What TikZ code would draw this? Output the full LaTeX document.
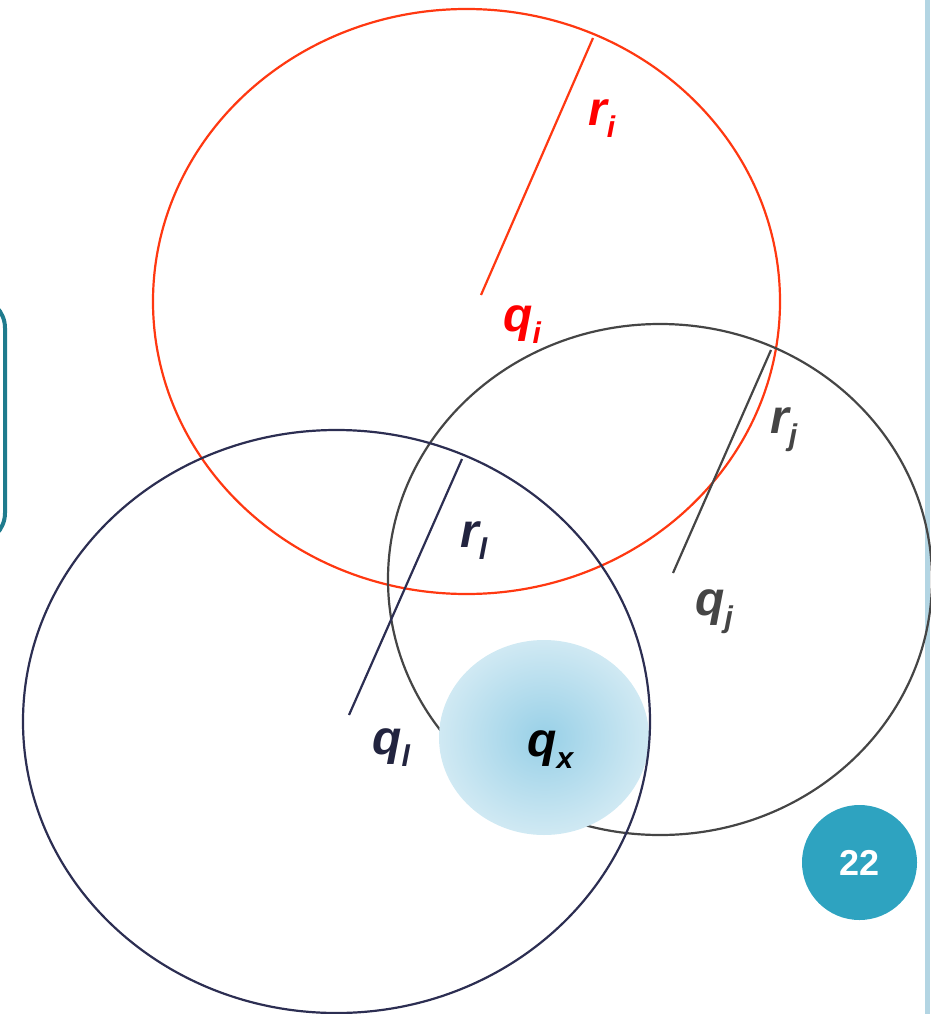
\documentclass[tikz,border=0pt]{standalone}
\usepackage{fontspec}
\setmainfont{Liberation Sans}
\usepackage{tikz}
\usetikzlibrary{positioning,shapes.geometric}

\definecolor{ringred}{HTML}{FF3811}
\definecolor{labred}{HTML}{FF0000}
\definecolor{ringgray}{HTML}{454545}
\definecolor{ringnavy}{HTML}{2C2E52}
\definecolor{labnavy}{HTML}{22243F}
\definecolor{badge}{HTML}{2EA3C0}
\definecolor{boxteal}{HTML}{1F7B8D}
\definecolor{barblue}{HTML}{B3D5E3}
\definecolor{discin}{HTML}{98D0E7}
\definecolor{discout}{HTML}{D0E9F3}

\newcommand{\sublab}[2]{#1\raisebox{-12pt}{\fontsize{30}{32}\selectfont #2}}

\begin{document}
\begin{tikzpicture}[
  x=1pt,y=-1pt,
  ring/.style={line width=2.2pt},
  lab/.style={font=\fontsize{48}{52}\selectfont\bfseries\itshape,inner sep=0pt,anchor=base west}]
\useasboundingbox (0,0) rectangle (930,1014);
% side decorations
\draw[boxteal,line width=4pt,rounded corners=30] (-200,298) rectangle (5,543);
\fill[barblue] (925,0) rectangle (930,1014);
% query regions
\draw[ring,ringred] (466.5,301.5) ellipse [x radius=313.5,y radius=292.5];
\draw[ring,ringgray] (660,579.5) ellipse [x radius=272,y radius=255.5];
\coordinate (qi) at (481,295); \coordinate (ei) at (593,38);
\coordinate (qj) at (673,573); \coordinate (ej) at (771,350);
\coordinate (ql) at (349,715); \coordinate (el) at (462,459);
\draw[ring,ringred] (qi) -- (ei);
\draw[ring,ringgray] (qj) -- (ej);
\node[ellipse,minimum width=210,minimum height=195,inner sep=0pt,
  shading=radial,inner color=discin,outer color=discout] (qx) at (544,737.5) {};
\draw[ring,ringnavy] (336.5,721.5) ellipse [x radius=313.5,y radius=291.5];
\draw[ring,ringnavy] (ql) -- (el);
% labels
\node[lab,labred] (ri) at (588,125) {\sublab{r}{i}};
\node[lab,labred] (qil) at (503,331) {\sublab{q}{i}};
\node[lab,ringgray] (rj) at (770,433) {\sublab{r}{j}};
\node[lab,ringgray] (qjl) at (695,615) {\sublab{q}{j}};
\node[lab,labnavy] (rl) at (460,547) {\sublab{r}{l}};
\node[lab,labnavy] (qll) at (372,754) {\sublab{q}{l}};
\node[lab,black] (qxl) at (527,756) {\sublab{q}{x}};
% page number
\node[circle,fill=badge,minimum size=115,inner sep=0pt,text=white,
  font=\fontsize{36}{40}\selectfont\bfseries] (num) at (859.5,862.5) {22};
\end{tikzpicture}
\end{document}
